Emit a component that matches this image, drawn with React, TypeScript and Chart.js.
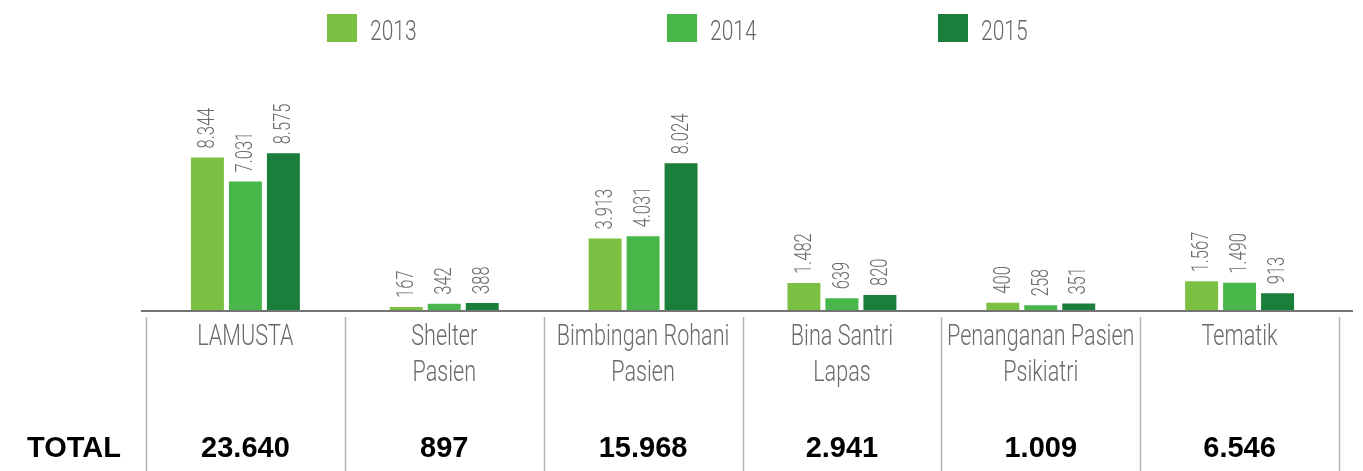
import { useEffect, useRef } from "react";
import { Chart, registerables } from "chart.js";

Chart.register(...registerables);

const categories: string[][] = [
  ["LAMUSTA"],
  ["Shelter", "Pasien"],
  ["Bimbingan Rohani", "Pasien"],
  ["Bina Santri", "Lapas"],
  ["Penanganan Pasien", "Psikiatri"],
  ["Tematik"],
];
const seriesNames = ["2013", "2014", "2015"];
const values2013 = [8344, 167, 3913, 1482, 400, 1567];
const values2014 = [7031, 342, 4031, 639, 258, 1490];
const values2015 = [8575, 388, 8024, 820, 351, 913];
const totals = [23640, 897, 15968, 2941, 1009, 6546];
const totalLabel = "TOTAL";
const seriesColors = ["#7CC043", "#47B74A", "#1B7E3A"];

const fmt = (n: number) => String(n).replace(/\B(?=(\d{3})+(?!\d))/g, ".");
const LIGHT = '"Roboto", "Liberation Sans", sans-serif';
const BOLD = '"Liberation Sans", Arial, sans-serif';

function condensedText(ctx: any, text: string, x: number, y: number, align: string, sx: number, rot = 0) {
  ctx.save();
  ctx.translate(x, y);
  if (rot) ctx.rotate(rot);
  ctx.scale(sx, 1);
  ctx.textAlign = align;
  ctx.fillText(text, 0, 0);
  ctx.restore();
}

const overlay = {
  id: "overlay",
  afterDatasetsDraw(chart: any) {
    const { ctx, chartArea } = chart;
    const xs = chart.scales.x;
    const H = chart.height;
    const bottom = chartArea.bottom;

    // value labels (rotated)
    ctx.save();
    ctx.fillStyle = "#6b6b6b";
    ctx.font = `300 23px ${LIGHT}`;
    ctx.textBaseline = "middle";
    chart.data.datasets.forEach((ds: any, di: number) => {
      const meta = chart.getDatasetMeta(di);
      meta.data.forEach((bar: any, i: number) => {
        const { x, y } = bar.getProps(["x", "y"], true);
        condensedText(ctx, fmt(ds.data[i]), x + 1, y - 9, "left", 0.72, -Math.PI / 2);
      });
    });
    ctx.restore();

    // baseline
    ctx.save();
    ctx.strokeStyle = "#747474";
    ctx.lineWidth = 2;
    ctx.beginPath();
    ctx.moveTo(chartArea.left - 5, bottom + 1);
    ctx.lineTo(chartArea.right + 14, bottom + 1);
    ctx.stroke();
    ctx.restore();

    // separators
    const n = chart.data.labels.length;
    ctx.save();
    ctx.strokeStyle = "#b4b4b4";
    ctx.lineWidth = 1.5;
    for (let i = 0; i <= n; i++) {
      const x = Math.round(xs.getPixelForValue(i - 0.5)) + 0.5;
      ctx.beginPath();
      ctx.moveTo(x, bottom + 7);
      ctx.lineTo(x, H);
      ctx.stroke();
    }
    ctx.restore();

    // category labels
    ctx.save();
    ctx.fillStyle = "#6a6a6a";
    ctx.font = `300 30px ${LIGHT}`;
    ctx.textBaseline = "alphabetic";
    chart.data.labels.forEach((lab: string[], i: number) => {
      const x = xs.getPixelForValue(i);
      lab.forEach((line, li) => {
        condensedText(ctx, line, x, bottom + 35 + li * 36, "center", 0.72);
      });
    });
    ctx.restore();

    // totals row
    ctx.save();
    ctx.fillStyle = "#000";
    ctx.font = `bold 29px ${BOLD}`;
    ctx.textBaseline = "alphabetic";
    ctx.textAlign = "left";
    ctx.fillText(totalLabel, 27, 457);
    ctx.textAlign = "center";
    totals.forEach((t, i) => {
      ctx.fillText(fmt(t), xs.getPixelForValue(i), 457);
    });
    ctx.restore();

    // legend
    const legendX = [327, 667, 938];
    ctx.save();
    ctx.font = `300 28px ${LIGHT}`;
    ctx.textBaseline = "alphabetic";
    chart.data.datasets.forEach((ds: any, di: number) => {
      const lx = legendX[di];
      ctx.fillStyle = ds.backgroundColor;
      ctx.fillRect(lx, 14, 30, 28);
      ctx.fillStyle = "#666";
      condensedText(ctx, ds.label, lx + 43, 40, "left", 0.75);
    });
    ctx.restore();
  },
};

export default function App() {
  const ref = useRef<HTMLCanvasElement | null>(null);
  useEffect(() => {
    if (!ref.current) return;
    const series = [values2013, values2014, values2015];
    const chart = new Chart(ref.current, {
      type: "bar",
      data: {
        labels: categories as any,
        datasets: series.map((vals, i) => ({
          label: seriesNames[i],
          data: vals,
          backgroundColor: seriesColors[i],
          borderWidth: 0,
          barPercentage: 0.868,
          categoryPercentage: 0.573,
        })),
      },
      options: {
        responsive: false,
        animation: false,
        layout: { padding: { left: 146, right: 24, top: 54, bottom: 161 } },
        scales: {
          x: { display: false, offset: true },
          y: { display: false, min: 0, max: 14000 },
        },
        plugins: {
          legend: { display: false },
          tooltip: { enabled: false },
        },
      },
      plugins: [overlay],
    });
    return () => chart.destroy();
  }, []);
  return (
    <div style={{ position: "absolute", left: 0, top: 0, width: 1363, height: 471, background: "#fff" }}>
      <canvas ref={ref} width={1363} height={471} style={{ display: "block" }} />
    </div>
  );
}
